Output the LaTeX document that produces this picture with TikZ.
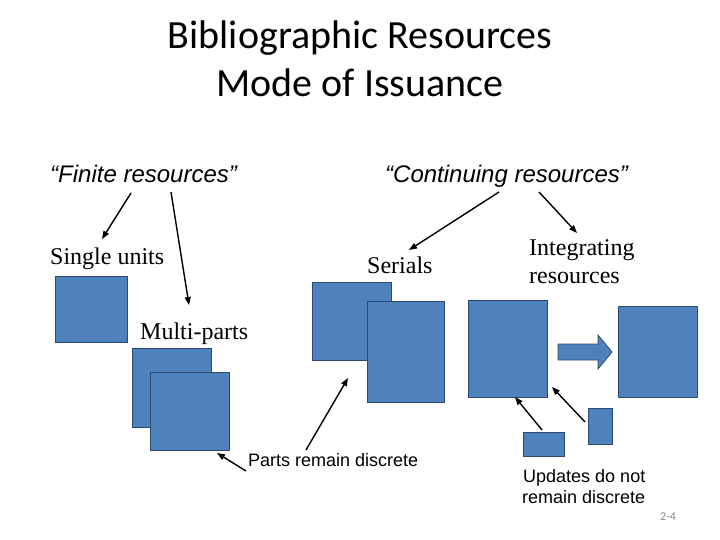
\documentclass[tikz,border=0pt]{standalone}
\usepackage{fontspec}
\setmainfont{Liberation Serif}
\newfontfamily\arialf{Liberation Sans}
\newfontfamily\calib{Carlito}
\usetikzlibrary{arrows.meta}
\definecolor{boxfill}{HTML}{4F81BD}
\definecolor{boxline}{HTML}{2C4A72}
\definecolor{numgray}{HTML}{8C8C8C}
\tikzset{
  bx/.style={fill=boxfill, draw=boxline, line width=0.8pt},
  lbl/.style={inner sep=0pt, anchor=base west},
  arr/.style={draw=black, line width=1.4pt, -{Triangle[length=8pt,width=6pt]}},
}
\begin{document}
\begin{tikzpicture}[x=1pt,y=-1pt]
\useasboundingbox (0,0) rectangle (720,540);
% title
\node[inner sep=0pt, anchor=base] (t1) at (360,49) {\calib\fontsize{40}{48}\selectfont Bibliographic Resources};
\node[inner sep=0pt, anchor=base] (t2) at (360,97) {\calib\fontsize{40}{48}\selectfont Mode of Issuance};
% headings
\node[lbl] (fin) at (50,183) {\arialf\itshape\fontsize{24}{28}\selectfont “Finite resources”};
\node[lbl] (cont) at (385,183) {\arialf\itshape\fontsize{24}{28}\selectfont “Continuing resources”};
\node[lbl] (single) at (50,264) {\fontsize{24}{28}\selectfont Single units};
\node[lbl] (serials) at (367,273) {\fontsize{24}{28}\selectfont Serials};
\node[lbl] (integ1) at (529,255) {\fontsize{24}{28}\selectfont Integrating};
\node[lbl] (integ2) at (529,283) {\fontsize{24}{28}\selectfont resources};
\node[lbl] (multi) at (140,339) {\fontsize{24}{28}\selectfont Multi-parts};
\node[lbl] (parts) at (248,466) {\arialf\fontsize{18}{21}\selectfont Parts remain discrete};
\node[lbl] (upd1) at (523,482) {\arialf\fontsize{18}{21}\selectfont Updates do not};
\node[lbl] (upd2) at (522,503) {\arialf\fontsize{18}{21}\selectfont remain discrete};
\node[lbl] (num) at (660,520) {\calib\fontsize{12}{14}\selectfont\color{numgray}2-4};
% boxes
\draw[bx] (55,276) rectangle (127,342);
\draw[bx] (132,348) rectangle (211,427);
\draw[bx] (150,372) rectangle (229,450);
\draw[bx] (312,282) rectangle (391,360);
\draw[bx] (367,301) rectangle (444,402);
\draw[bx] (468,300) rectangle (547,397);
\draw[bx] (618,306) rectangle (697,397);
\draw[bx] (523,432) rectangle (564,456);
\draw[bx] (588,408) rectangle (612,444);
% block arrow
\draw[bx] (558,344) -- (598,344) -- (598,335) -- (612,352) -- (598,369) -- (598,360) -- (558,360) -- cycle;
% arrow ends
\coordinate (a1s) at (131,193); \coordinate (a1e) at (102,239);
\coordinate (a2s) at (171,192); \coordinate (a2e) at (189,305);
\coordinate (a3s) at (499,192); \coordinate (a3e) at (409,250);
\coordinate (a4s) at (539,192); \coordinate (a4e) at (577,233);
\coordinate (a5s) at (246,471); \coordinate (a5e) at (217,453);
\coordinate (a6s) at (306,450); \coordinate (a6e) at (348,378);
\coordinate (a7s) at (542,430); \coordinate (a7e) at (515,397);
\coordinate (a8s) at (585,422); \coordinate (a8e) at (552,387);
\draw[arr] (a1s) -- (a1e);
\draw[arr] (a2s) -- (a2e);
\draw[arr] (a3s) -- (a3e);
\draw[arr] (a4s) -- (a4e);
\draw[arr] (a5s) -- (a5e);
\draw[arr] (a6s) -- (a6e);
\draw[arr] (a7s) -- (a7e);
\draw[arr] (a8s) -- (a8e);
\end{tikzpicture}
\end{document}
